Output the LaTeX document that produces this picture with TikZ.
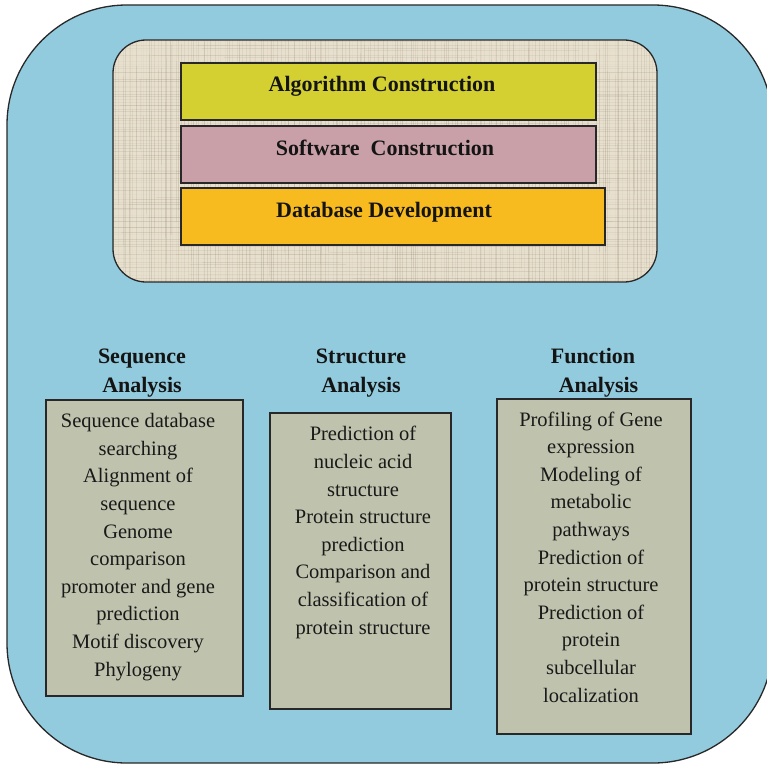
\documentclass[tikz,border=0pt]{standalone}
\usepackage{fontspec}
\setmainfont{Liberation Serif}
\definecolor{outerblue}{RGB}{146,203,222}
\definecolor{linen}{RGB}{232,224,206}
\definecolor{linenline}{RGB}{150,140,120}
\definecolor{algcol}{RGB}{212,208,50}
\definecolor{softcol}{RGB}{201,160,168}
\definecolor{dbcol}{RGB}{247,187,31}
\definecolor{graybox}{RGB}{191,195,173}
\definecolor{edge}{RGB}{40,40,40}
\tikzset{
  layerbox/.style={draw=edge, line width=1.2pt, inner sep=0pt},
  layertext/.style={font=\fontsize{22}{26}\selectfont\bfseries, text=black!92, inner sep=0pt},
  headtext/.style={font=\fontsize{22}{29}\selectfont\bfseries, text=black!92, align=center, inner sep=0pt},
  listbox/.style={draw=edge, line width=1.2pt, fill=graybox, inner sep=0pt},
  listtext/.style={font=\fontsize{20.5}{27.6}\selectfont, text=black!90, align=center, inner sep=0pt}
}
\begin{document}
\begin{tikzpicture}[x=1pt,y=-1pt]
\useasboundingbox (0,0) rectangle (767,765);
\begin{scope}
\clip (0,0) rectangle (767,765);
% outer rounded panel
\draw[fill=outerblue, draw=edge, line width=1.3pt, rounded corners=120pt] (7,5) rectangle (773,763);
% inner linen panel
\fill[linen, rounded corners=33pt] (113,40) rectangle (657,282);
\begin{scope}
\clip[rounded corners=33pt] (113,40) rectangle (657,282);
\pgfmathsetseed{11}
\foreach \i in {0,...,180}{
  \pgfmathsetmacro{\op}{0.02+0.2*rnd}
  \pgfmathsetmacro{\xx}{113+3*\i+1.5*rand}
  \pgfmathsetmacro{\ya}{40+120*rnd}
  \pgfmathsetmacro{\yb}{\ya+60+160*rnd}
  \draw[linenline, opacity=\op, line width=0.7pt] (\xx,40) -- (\xx,282);
  \draw[linenline, opacity=0.12, line width=0.9pt] (\xx,\ya) -- (\xx,\yb);
}
\foreach \j in {0,...,80}{
  \pgfmathsetmacro{\op}{0.02+0.2*rnd}
  \pgfmathsetmacro{\yy}{40+3*\j+1.5*rand}
  \pgfmathsetmacro{\xa}{113+300*rnd}
  \pgfmathsetmacro{\xb}{\xa+80+200*rnd}
  \draw[linenline, opacity=\op, line width=0.7pt] (113,\yy) -- (657,\yy);
  \draw[linenline, opacity=0.12, line width=0.9pt] (\xa,\yy) -- (\xb,\yy);
}
\end{scope}
\draw[draw=edge, line width=1.3pt, rounded corners=33pt] (113,40) rectangle (657,282);
\end{scope}

% layer boxes
\node[layerbox, fill=algcol, minimum width=415pt, minimum height=57pt] (alg) at (388.5,91.5) {};
\node[layerbox, fill=softcol, minimum width=415pt, minimum height=57pt] (soft) at (388.5,154.5) {};
\node[layerbox, fill=dbcol, minimum width=424pt, minimum height=57pt] (db) at (393,216.5) {};
\node[layertext, anchor=base] (algt) at (382,92) {Algorithm Construction};
\node[layertext, anchor=base] (softt) at (385,155) {Software\ \ Construction};
\node[layertext, anchor=base] (dbt) at (384,217) {Database Development};

% headings (base = baseline of last line)
\node[headtext, anchor=base] (h1) at (142,392) {Sequence\\Analysis};
\node[headtext, anchor=base] (h2) at (361,392) {Structure\\Analysis};
\node[headtext, anchor=base] (h3) at (593,392) {Function\\\ \ Analysis};

% list boxes
\node[listbox, minimum width=197pt, minimum height=296pt] (b1) at (144.5,548) {};
\node[listbox, minimum width=181pt, minimum height=296pt] (b2) at (360.5,561) {};
\node[listbox, minimum width=194pt, minimum height=335pt] (b3) at (594,566.5) {};

\node[listtext, anchor=base] (t1) at (138,676) {Sequence database\\searching\\Alignment of\\sequence\\Genome\\comparison\\promoter and gene\\prediction\\Motif discovery\\Phylogeny};
\node[listtext, anchor=base] (t2) at (363,634) {Prediction of\\nucleic acid\\structure\\Protein structure\\prediction\\Comparison and\\classification of\\protein structure};
\node[listtext, anchor=base] (t3) at (591,702) {Profiling of Gene\\expression\\Modeling of\\metabolic\\pathways\\Prediction of\\protein structure\\Prediction of\\protein\\subcellular\\localization};
\end{tikzpicture}
\end{document}
